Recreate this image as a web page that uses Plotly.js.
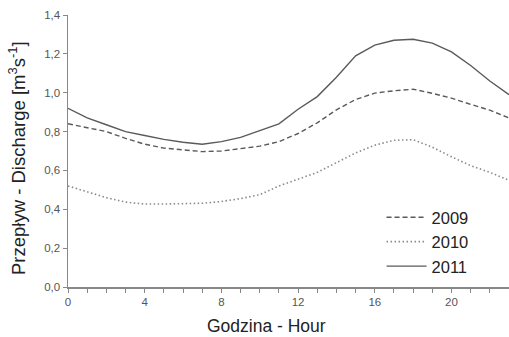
<!DOCTYPE html>
<html>
<head>
<meta charset="utf-8">
<script src="https://cdn.plot.ly/plotly-3.0.1.min.js"></script>
<style>html,body{margin:0;padding:0;background:#fff;}#chart{width:509px;height:337px;}</style>
</head>
<body>
<div id="chart"></div>
<script>
var hours = [0,1,2,3,4,5,6,7,8,9,10,11,12,13,14,15,16,17,18,19,20,21,22,23];
var q2009 = [0.84,0.82,0.80,0.765,0.735,0.715,0.705,0.697,0.70,0.713,0.725,0.748,0.79,0.845,0.912,0.965,0.998,1.01,1.018,0.997,0.972,0.94,0.91,0.87];
var q2010 = [0.52,0.49,0.46,0.437,0.427,0.427,0.428,0.431,0.44,0.455,0.475,0.52,0.555,0.59,0.64,0.69,0.73,0.755,0.758,0.72,0.67,0.625,0.59,0.55];
var q2011 = [0.92,0.87,0.835,0.80,0.78,0.76,0.745,0.735,0.748,0.77,0.805,0.84,0.915,0.98,1.08,1.19,1.245,1.27,1.275,1.255,1.21,1.14,1.06,0.99];
var yTicks = [0,0.2,0.4,0.6,0.8,1.0,1.2,1.4];
var xTicks = [0,4,8,12,16,20];
var xTitle = 'Godzina - Hour';
var yTitle = 'Przepływ - Discharge [m<sup>3</sup>s<sup>-1</sup>]';

var lineColor = '#5a5a5a';
var traces = [
  {x: hours, y: q2009, name: '2009', mode: 'lines', line: {color: lineColor, width: 1.4, dash: '5px,3px'}},
  {x: hours, y: q2010, name: '2010', mode: 'lines', line: {color: '#8a8a8a', width: 1.6, dash: '1.5px,2.5px'}},
  {x: hours, y: q2011, name: '2011', mode: 'lines', line: {color: lineColor, width: 1.4}}
];

var layout = {
  width: 509, height: 337,
  margin: {l: 68, r: 0, t: 15, b: 50},
  paper_bgcolor: '#fff', plot_bgcolor: '#fff',
  separators: ',.',
  font: {family: 'Liberation Sans, Arial, sans-serif', color: '#222'},
  showlegend: true,
  legend: {x: 0.711, y: 0.32, xanchor: 'left', yanchor: 'top', bgcolor: 'rgba(0,0,0,0)',
           font: {size: 16.5, color: '#222'}, tracegroupgap: 0, itemwidth: 40},
  xaxis: {
    range: [0, 23], tickvals: xTicks, ticktext: xTicks.map(String),
    showgrid: false, zeroline: false, showline: true, linecolor: '#888', linewidth: 1.5,
    ticks: 'outside', ticklen: 4, tickcolor: '#888', tickwidth: 1,
    minor: {dtick: 1, ticks: 'outside', ticklen: 4, tickcolor: '#888', tickwidth: 1, showgrid: false},
    tickfont: {size: 11.5, color: '#555'}
  },
  yaxis: {
    range: [0, 1.4], tickvals: yTicks, tickformat: '.1f',
    showgrid: false, zeroline: false, showline: true, linecolor: '#888', linewidth: 1.5,
    ticks: 'outside', ticklen: 4, tickcolor: '#888', tickwidth: 1,
    tickfont: {size: 11.5, color: '#555'}
  },
  annotations: [
    {text: xTitle, xref: 'paper', yref: 'paper', x: 0.451, y: (287 - 326) / 272,
     xanchor: 'center', yanchor: 'middle', showarrow: false, font: {size: 17.5, color: '#222'}},
    {text: yTitle, xref: 'paper', yref: 'paper', x: (17 - 68) / 441, y: (287 - 158) / 272,
     xanchor: 'center', yanchor: 'middle', textangle: -90, showarrow: false, font: {size: 18.5, color: '#222'}}
  ]
};

Plotly.newPlot('chart', traces, layout, {staticPlot: true, displayModeBar: false});
</script>
</body>
</html>
